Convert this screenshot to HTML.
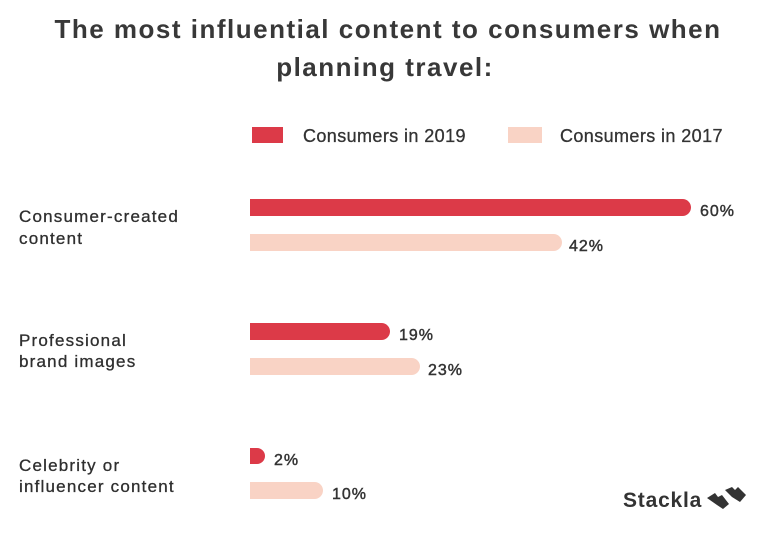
<!DOCTYPE html>
<html>
<head>
<meta charset="utf-8">
<style>
  html,body{margin:0;padding:0;background:#fff;}
  body{width:765px;height:536px;overflow:hidden;}
  svg{display:block;}
  .t{font-family:"Liberation Sans",sans-serif;font-weight:bold;fill:#383838;font-size:26px;letter-spacing:1.5px;}
  .lg{font-family:"Liberation Sans",sans-serif;fill:#333;font-size:18px;letter-spacing:0.4px;stroke:#333;stroke-width:0.3px;}
  .cat{font-family:"Liberation Sans",sans-serif;fill:#2f2f2f;font-size:17px;letter-spacing:1.2px;stroke:#2f2f2f;stroke-width:0.3px;}
  .pct{font-family:"Liberation Sans",sans-serif;fill:#333;font-size:16px;letter-spacing:1px;stroke:#333;stroke-width:0.45px;}
  .logo{font-family:"Liberation Sans",sans-serif;font-weight:bold;fill:#333;font-size:21px;letter-spacing:0.8px;}
</style>
</head>
<body>
<svg width="765" height="536" viewBox="0 0 765 536" xmlns="http://www.w3.org/2000/svg">
  <!-- Title -->
  <text class="t" x="388" y="38" text-anchor="middle">The most influential content to consumers when</text>
  <text class="t" x="385" y="76" text-anchor="middle">planning travel:</text>

  <!-- Legend -->
  <rect x="252" y="127" width="31" height="16" fill="#dc3a48"/>
  <text class="lg" x="303" y="142">Consumers in 2019</text>
  <rect x="508" y="127" width="34" height="16" fill="#f9d3c5"/>
  <text class="lg" x="560" y="142">Consumers in 2017</text>

  <!-- Category labels -->
  <text class="cat" x="19" y="222">Consumer-created</text>
  <text class="cat" x="19" y="244">content</text>
  <text class="cat" x="19" y="346">Professional</text>
  <text class="cat" x="19" y="367">brand images</text>
  <text class="cat" x="19" y="471">Celebrity or</text>
  <text class="cat" x="19" y="492">influencer content</text>

  <!-- Bars -->
  <path d="M250 199 H682.5 A8.5 8.5 0 0 1 682.5 216 H250 Z" fill="#dc3a48"/>
  <path d="M250 234 H553.5 A8.5 8.5 0 0 1 553.5 251 H250 Z" fill="#f9d3c5"/>
  <path d="M250 323 H381.5 A8.5 8.5 0 0 1 381.5 340 H250 Z" fill="#dc3a48"/>
  <path d="M250 358 H411.5 A8.5 8.5 0 0 1 411.5 375 H250 Z" fill="#f9d3c5"/>
  <path d="M250 448 H257 A8 8 0 0 1 257 464 H250 Z" fill="#dc3a48"/>
  <path d="M250 482 H314.5 A8.5 8.5 0 0 1 314.5 499 H250 Z" fill="#f9d3c5"/>

  <!-- Percent labels -->
  <text class="pct" x="700" y="216">60%</text>
  <text class="pct" x="569" y="251">42%</text>
  <text class="pct" x="399" y="340">19%</text>
  <text class="pct" x="428" y="375">23%</text>
  <text class="pct" x="274" y="465">2%</text>
  <text class="pct" x="332" y="499">10%</text>

  <!-- Stackla logo -->
  <text class="logo" x="623" y="507">Stackla</text>
  <polygon points="707,498 715,493 718,497 722,495 729,504 723,509 717,505" fill="#333"/>
  <polygon points="725,490 732,487 735,490 738,487 746,495 740,502 732,497" fill="#333"/>
</svg>
</body>
</html>
